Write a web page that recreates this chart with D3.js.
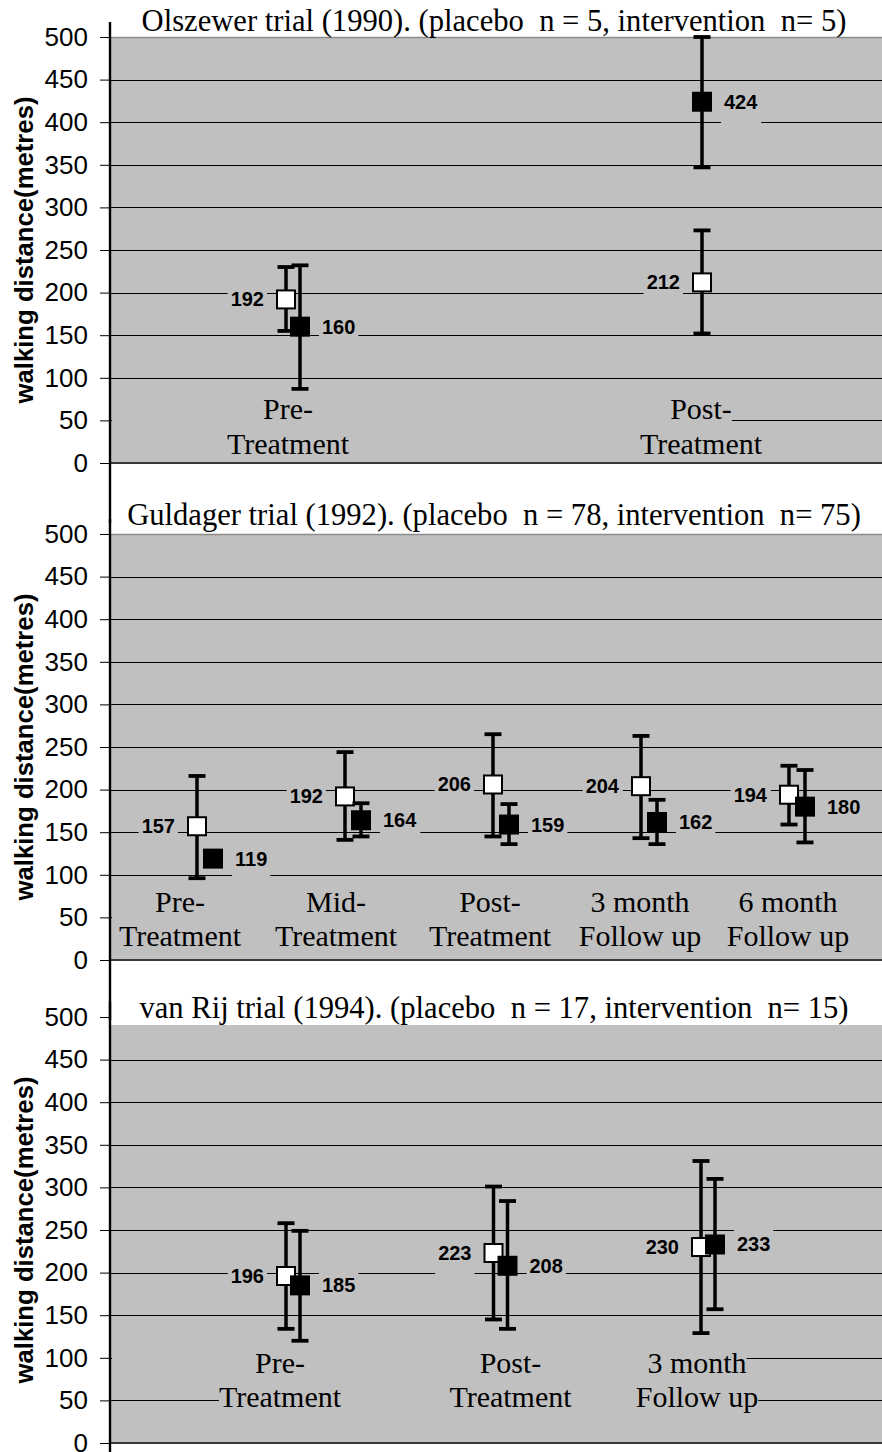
<!DOCTYPE html>
<html>
<head>
<script src="https://d3js.org/d3.v7.min.js"></script>
<style>
   body { margin: 0; background: #ffffff; font-family: Arial; }
   text { white-space: pre; }
</style>
</head>
<body>
<svg id="chart" width="882" height="1452"></svg>
<script>
// tick values of the walking distance axis
var yTicks = [0, 50, 100, 150, 200, 250, 300, 350, 400, 450, 500];
var yTitle = "walking distance(metres)";

var titles = [
   "Olszewer trial (1990). (placebo  n = 5, intervention  n= 5)",
   "Guldager trial (1992). (placebo  n = 78, intervention  n= 75)",
   "van Rij trial (1994). (placebo  n = 17, intervention  n= 15)"
];

// Olszewer
var olszewerCategories = [["Pre-", "Treatment"], ["Post-", "Treatment"]];
var olszewerPlacebo = [192, 212];
var olszewerPlaceboLow = [155, 152];
var olszewerPlaceboHigh = [230, 273];
var olszewerIntervention = [160, 424];
var olszewerInterventionLow = [87, 347];
var olszewerInterventionHigh = [232, 500];

// Guldager
var guldagerCategories = [["Pre-", "Treatment"], ["Mid-", "Treatment"], ["Post-", "Treatment"], ["3 month", "Follow up"], ["6 month", "Follow up"]];
var guldagerPlacebo = [157, 192, 206, 204, 194];
var guldagerPlaceboLow = [96, 141, 145, 143, 159];
var guldagerPlaceboHigh = [216, 244, 265, 263, 228];
var guldagerIntervention = [119, 164, 159, 162, 180];
var guldagerInterventionLow = [114, 145, 136, 136, 138];
var guldagerInterventionHigh = [124, 184, 183, 188, 223];

// van Rij
var vanRijCategories = [["Pre-", "Treatment"], ["Post-", "Treatment"], ["3 month", "Follow up"]];
var vanRijPlacebo = [196, 223, 230];
var vanRijPlaceboLow = [134, 145, 129];
var vanRijPlaceboHigh = [258, 301, 331];
var vanRijIntervention = [185, 208, 233];
var vanRijInterventionLow = [120, 134, 157];
var vanRijInterventionHigh = [249, 284, 310];

var panels = [
   { title: titles[0], cats: olszewerCategories,
     placebo: olszewerPlacebo, pLow: olszewerPlaceboLow, pHigh: olszewerPlaceboHigh,
     interv: olszewerIntervention, iLow: olszewerInterventionLow, iHigh: olszewerInterventionHigh },
   { title: titles[1], cats: guldagerCategories,
     placebo: guldagerPlacebo, pLow: guldagerPlaceboLow, pHigh: guldagerPlaceboHigh,
     interv: guldagerIntervention, iLow: guldagerInterventionLow, iHigh: guldagerInterventionHigh },
   { title: titles[2], cats: vanRijCategories,
     placebo: vanRijPlacebo, pLow: vanRijPlaceboLow, pHigh: vanRijPlaceboHigh,
     interv: vanRijIntervention, iLow: vanRijInterventionLow, iHigh: vanRijInterventionHigh }
];

// layout of each panel
var layout = [
   { top: 37, xRange: [293, 702], dodge: [7, 0], nudge: [-5, -1], line1: -44, line2: -9, titleDy: -6, inset: 0, border: true, fullRow: false },
   { top: 534, xRange: [205, 797], dodge: [8, 8, 8, 8, 8], nudge: [-25, -17, -11, -9, -9], line1: -48, line2: -14, titleDy: -9, inset: 0, border: true, fullRow: true },
   { top: 1017, xRange: [293, 708], dodge: [7, 7, 7], nudge: [-13, 10, -11], line1: -70, line2: -36, titleDy: 1, inset: 8, border: false, fullRow: false }
];
var plotH = 426, left = 110, right = 882;
var serif = "'Liberation Serif', 'Times New Roman', serif";
var sans = "Arial, 'Liberation Sans', sans-serif";

var svg = d3.select("#chart");

panels.forEach(function (p, k) {
   var L = layout[k];
   var bottom = L.top + plotH;
   var g = svg.append("g");
   var y = d3.scaleLinear().domain([0, 500]).range([bottom, L.top]);
   var x = d3.scalePoint().domain(p.cats.map(function (c, i) { return i; })).range(L.xRange);

   // plot area
   g.append("rect")
      .attr("x", left).attr("y", L.top + L.inset)
      .attr("width", right - left).attr("height", plotH - L.inset)
      .attr("fill", "#c0c0c0");
   if (L.border) {
      g.append("line").attr("x1", left).attr("x2", right)
         .attr("y1", L.top + 0.5).attr("y2", L.top + 0.5)
         .attr("stroke", "#8c8c8c").attr("stroke-width", 1.5);
   }

   // gridlines
   g.selectAll(".grid").data(yTicks.filter(function (t) { return t > 0 && t < 500; }))
      .enter().append("line")
      .attr("x1", left).attr("x2", right)
      .attr("y1", function (d) { return Math.round(y(d)) + 0.5; })
      .attr("y2", function (d) { return Math.round(y(d)) + 0.5; })
      .attr("stroke", "#000").attr("stroke-width", 1);

   // title
   g.append("text")
      .text(p.title)
      .attr("x", 494).attr("y", L.top + L.titleDy)
      .attr("text-anchor", "middle")
      .style("font-family", serif)
      .style("font-size", "30.6px");

   // category labels (two lines, with background boxes)
   var boxG = g.append("g"), catG = g.append("g");
   [0, 1].forEach(function (line) {
      var base = bottom + (line === 0 ? L.line1 : L.line2);
      var texts = catG.selectAll(".l" + line).data(p.cats).enter().append("text")
         .text(function (d) { return d[line]; })
         .attr("x", function (d, i) { return x(i) + L.nudge[i]; })
         .attr("y", base)
         .attr("text-anchor", "middle")
         .style("font-family", serif)
         .style("font-size", "30px");
      var boxes = texts.nodes().map(function (n) { return n.getBBox(); });
      var x0 = line === 0 ? left + 2 : d3.min(boxes, function (b) { return b.x; });
      var x1 = (line === 0 && L.fullRow) ? right : d3.max(boxes, function (b) { return b.x + b.width; });
      boxG.append("rect")
         .attr("x", x0).attr("y", base - 27)
         .attr("width", x1 - x0).attr("height", 36)
         .attr("fill", "#c0c0c0");
   });

   // error bars and markers
   var series = [
      { v: p.placebo, lo: p.pLow, hi: p.pHigh, side: -1, fill: "#ffffff" },
      { v: p.interv, lo: p.iLow, hi: p.iHigh, side: 1, fill: "#000000" }
   ];
   series.forEach(function (s) {
      var sg = g.append("g");
      var cx = function (i) { return x(i) + s.side * L.dodge[i]; };
      sg.selectAll(".bar").data(s.v).enter().append("line")
         .attr("x1", function (d, i) { return cx(i); })
         .attr("x2", function (d, i) { return cx(i); })
         .attr("y1", function (d, i) { return y(s.lo[i]); })
         .attr("y2", function (d, i) { return y(s.hi[i]); })
         .attr("stroke", "#000").attr("stroke-width", 3.5);
      ["lo", "hi"].forEach(function (end) {
         sg.selectAll(".cap" + end).data(s.v).enter().append("line")
            .attr("x1", function (d, i) { return cx(i) - 8.5; })
            .attr("x2", function (d, i) { return cx(i) + 8.5; })
            .attr("y1", function (d, i) { return y(s[end][i]); })
            .attr("y2", function (d, i) { return y(s[end][i]); })
            .attr("stroke", "#000").attr("stroke-width", 3.8);
      });
      sg.selectAll(".mark").data(s.v).enter().append("rect")
         .attr("x", function (d, i) { return cx(i) - 9; })
         .attr("y", function (d) { return y(d) - 9; })
         .attr("width", 18).attr("height", 18)
         .attr("fill", s.fill)
         .attr("stroke", "#000").attr("stroke-width", 2);
   });

   // data labels
   series.forEach(function (s) {
      var lg = g.append("g");
      var bg = lg.append("g");
      var labels = lg.selectAll(".lab").data(s.v).enter().append("text")
         .text(function (d) { return d; })
         .attr("x", function (d, i) { return x(i) + s.side * L.dodge[i] + s.side * 22; })
         .attr("y", function (d) { return y(d) + 7; })
         .attr("text-anchor", s.side < 0 ? "end" : "start")
         .style("font-family", sans)
         .style("font-weight", "bold")
         .style("font-size", "20px");
      labels.each(function (d) {
         var b = this.getBBox();
         bg.append("rect")
            .attr("x", b.x - 3).attr("y", y(d) - 15)
            .attr("width", b.width + 6).attr("height", 38)
            .attr("fill", "#c0c0c0");
      });
   });

   // x axis line at zero
   g.append("line").attr("x1", left).attr("x2", right)
      .attr("y1", bottom).attr("y2", bottom)
      .attr("stroke", "#3a3a3a").attr("stroke-width", 2);

   // y axis
   var axis = d3.axisLeft(y).tickValues(yTicks).tickSize(10).tickPadding(12);
   var ag = g.append("g").attr("transform", "translate(" + left + ",0)").call(axis);
   ag.select(".domain").remove();
   ag.selectAll("text")
      .style("font-family", sans)
      .style("font-size", "26px")
      .attr("fill", "#000");
   ag.selectAll("line").attr("stroke", "#000");
   g.append("line").attr("x1", left).attr("x2", left)
      .attr("y1", L.top - 15).attr("y2", bottom + 60)
      .attr("stroke", "#000").attr("stroke-width", 2.4);

   // y axis title
   g.append("text")
      .text(yTitle)
      .attr("transform", "translate(33," + (L.top + plotH / 2) + ") rotate(-90)")
      .attr("text-anchor", "middle")
      .style("font-family", sans)
      .style("font-weight", "bold")
      .style("font-size", "25.7px");
});
</script>
</body>
</html>
